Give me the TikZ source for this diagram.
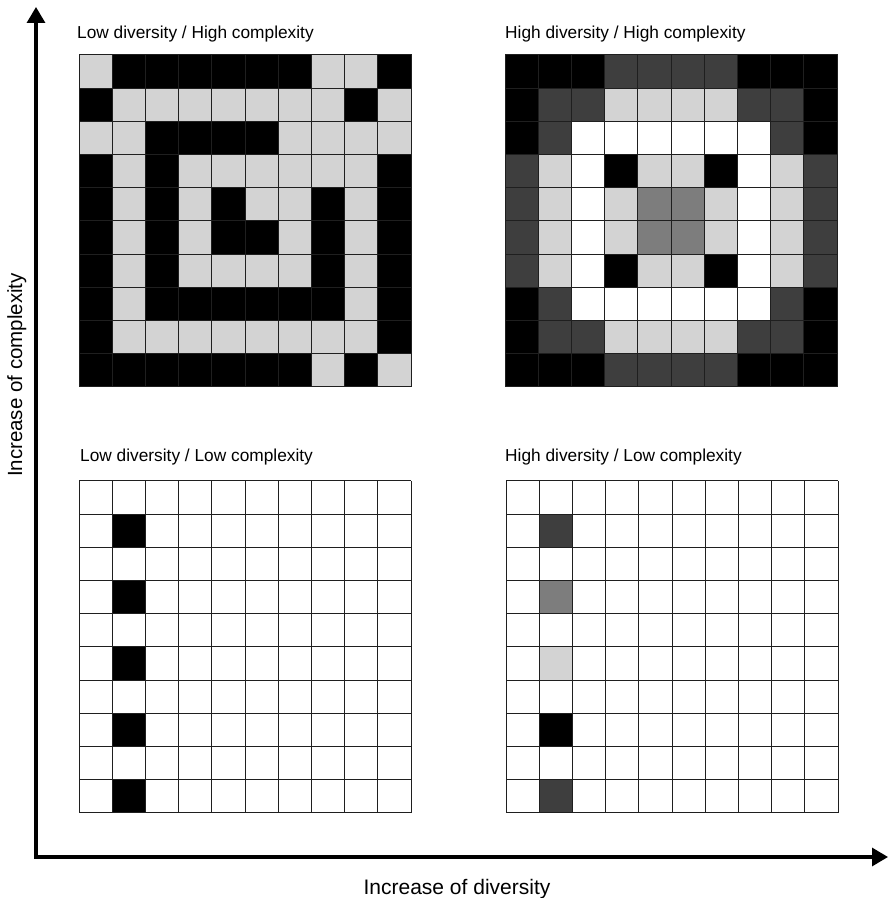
\documentclass[tikz,border=0pt]{standalone}
\usepackage{fontspec}
\setmainfont{Liberation Sans}
\usetikzlibrary{arrows.meta, math}
\definecolor{shade0}{RGB}{255,255,255}
\definecolor{shade1}{RGB}{211,211,211}
\definecolor{shade2}{RGB}{125,125,125}
\definecolor{shade3}{RGB}{62,62,62}
\definecolor{shade4}{RGB}{0,0,0}
\tikzset{
cell/.style={draw=black!88, line width=1bp},
axisline/.style={line width=3.2bp, line join=miter, {Triangle[length=16bp,width=18bp]}-{Triangle[length=16bp,width=18bp]}},
paneltitle/.style={anchor=base west, inner sep=0pt, font=\fontsize{17.3bp}{19bp}\selectfont},
axislabel/.style={anchor=base, inner sep=0pt, font=\fontsize{21bp}{24bp}\selectfont}
}
% one grid of cells, rows from top to bottom
\newcommand{\pixelgrid}[3]{%
\foreach \row [count=\j] in {#3} {
  \foreach \v [count=\i] in \row {
    \filldraw[cell, fill=shade\v] (#1+\i*\cs-\cs, #2-\j*\cs) rectangle +(\cs,\cs);
  }
}}

\begin{document}
\begin{tikzpicture}[x=1bp, y=1bp]
\tikzmath{
\cs=33.2;
\n=10;
\ox=36;
\oy=41;
}
\useasboundingbox (0,0) rectangle (889,898);
%axes
\draw[axisline] (\ox,891) -- (\ox,\oy) -- (888,\oy);
\node[axislabel] (xlab) at (457,3) {Increase of diversity};
\node[axislabel, rotate=90, font=\fontsize{20.5bp}{24bp}\selectfont] (ylab) at (22,523) {Increase of complexity};

%low diversity / high complexity
\node[paneltitle] (tltitle) at (77,859) {Low diversity / High complexity};
\pixelgrid{79}{843}{
{1,4,4,4,4,4,4,1,1,4},
{4,1,1,1,1,1,1,1,4,1},
{1,1,4,4,4,4,1,1,1,1},
{4,1,4,1,1,1,1,1,1,4},
{4,1,4,1,4,1,1,4,1,4},
{4,1,4,1,4,4,1,4,1,4},
{4,1,4,1,1,1,1,4,1,4},
{4,1,4,4,4,4,4,4,1,4},
{4,1,1,1,1,1,1,1,1,4},
{4,4,4,4,4,4,4,1,4,1}}

%high diversity / high complexity
\node[paneltitle] (trtitle) at (505,859) {High diversity / High complexity};
\pixelgrid{505}{843}{
{4,4,4,3,3,3,3,4,4,4},
{4,3,3,1,1,1,1,3,3,4},
{4,3,0,0,0,0,0,0,3,4},
{3,1,0,4,1,1,4,0,1,3},
{3,1,0,1,2,2,1,0,1,3},
{3,1,0,1,2,2,1,0,1,3},
{3,1,0,4,1,1,4,0,1,3},
{4,3,0,0,0,0,0,0,3,4},
{4,3,3,1,1,1,1,3,3,4},
{4,4,4,3,3,3,3,4,4,4}}

%low diversity / low complexity
\node[paneltitle] (bltitle) at (80,436) {Low diversity / Low complexity};
\draw[cell, shift={(79,417-\n*\cs)}] (0,0) grid[step=\cs] (\n*\cs,\n*\cs);
\foreach \v [count=\j] in {0,4,0,4,0,4,0,4,0,4}
  \filldraw[cell, fill=shade\v] (79+\cs, 417-\j*\cs) rectangle +(\cs,\cs);

%high diversity / low complexity
\node[paneltitle] (brtitle) at (505,436) {High diversity / Low complexity};
\draw[cell, shift={(506,417-\n*\cs)}] (0,0) grid[step=\cs] (\n*\cs,\n*\cs);
\foreach \v [count=\j] in {0,3,0,2,0,1,0,4,0,3}
  \filldraw[cell, fill=shade\v] (506+\cs, 417-\j*\cs) rectangle +(\cs,\cs);
\end{tikzpicture}
\end{document}
